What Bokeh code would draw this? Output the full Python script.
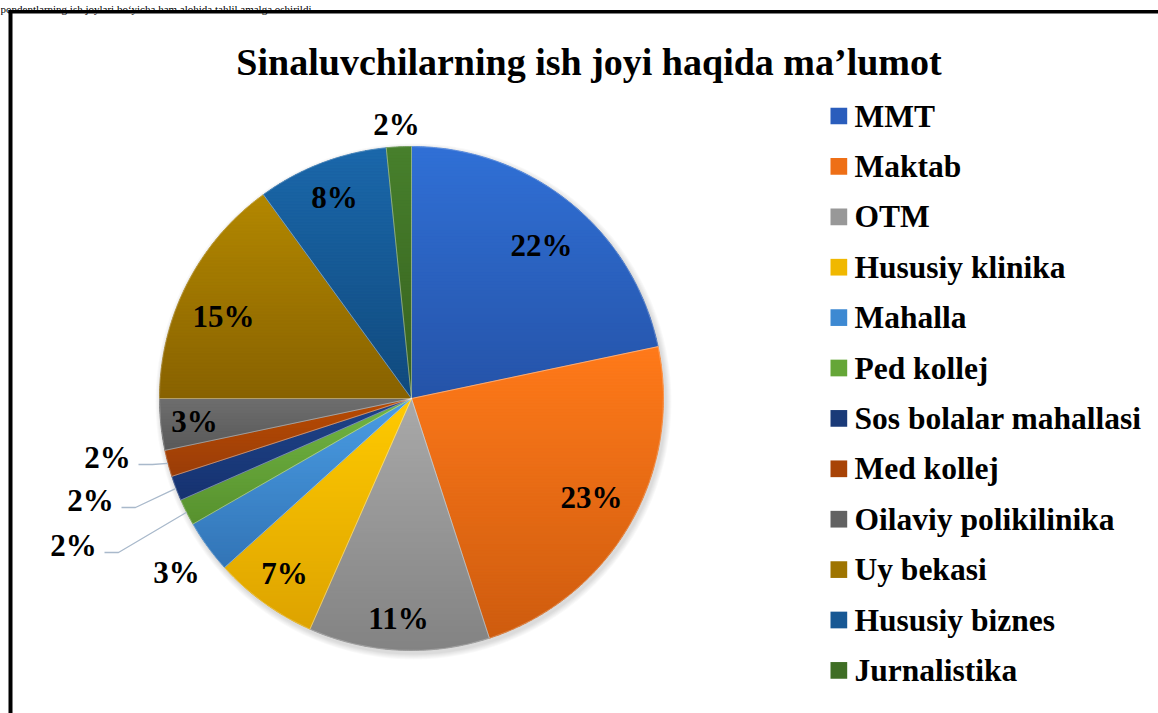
import math
from bokeh.plotting import figure
from bokeh.models import Range1d, ColumnDataSource
from bokeh.embed import file_html
from bokeh.resources import INLINE
from bokeh.core.properties import value

W, H = 1158, 713

# ---------------- data ----------------
categories = ["MMT", "Maktab", "OTM", "Hususiy klinika", "Mahalla", "Ped kollej",
              "Sos bolalar mahallasi", "Med kollej", "Oilaviy polikilinika",
              "Uy bekasi", "Hususiy biznes", "Jurnalistika"]
shares = [21.7, 23.3, 11.6, 6.7, 3.4, 1.7, 1.6, 1.7, 3.3, 15.0, 8.4, 1.6]
pct_labels = ["22%", "23%", "11%", "7%", "3%", "2%", "2%", "2%", "3%", "15%", "8%", "2%"]
colors = ["#2A5DBC", "#EE6F16", "#989898", "#F0B800", "#3D89D2", "#65A637",
          "#1A3A78", "#A84306", "#626262", "#9E7400", "#175894", "#3F6E25"]
colors_top = ["#3070D6", "#FF7A1A", "#A9A9A9", "#FFCA00", "#4A9DE4", "#72B643",
              "#1F4489", "#B94B02", "#6E6E6E", "#B38800", "#1B68AB", "#47802C"]
colors_bottom = ["#2553A8", "#CE5C0F", "#838383", "#DDA300", "#3274B6", "#57912E",
                 "#163270", "#9A3D08", "#595959", "#886200", "#114A7D", "#37611F"]
title_text = "Sinaluvchilarning ish joyi haqida ma\u2019lumot"
caption_text = "pondentlarning ish joylari bo\u2018yicha ham alohida tahlil amalga oshirildi."

# ---------------- layout (screen px) ----------------
CX, CY, R = 411, 398, 252
label_xy = [(541, 245), (591, 497), (398, 618), (284, 573), (176, 572), (73, 545),
            (90, 500), (107, 457), (194, 421), (223, 316), (334, 197), (396, 124)]
leader = [5, 6, 7]
LEG_X, LEG_Y0, LEG_DY, LEG_S = 830, 115.5, 50.4, 16.7


def Y(y):
    return H - y


def hex2rgb(h):
    h = h.lstrip("#")
    return tuple(int(h[i:i + 2], 16) for i in (0, 2, 4))


def mix(c0, c1, t):
    a, b = hex2rgb(c0), hex2rgb(c1)
    return "#%02x%02x%02x" % tuple(int(round(a[k] + (b[k] - a[k]) * t)) for k in range(3))


def clip(poly, yv, keep_above):
    out = []
    n = len(poly)
    for i in range(n):
        x0, y0 = poly[i]
        x1, y1 = poly[(i + 1) % n]
        in0 = (y0 >= yv) if keep_above else (y0 <= yv)
        in1 = (y1 >= yv) if keep_above else (y1 <= yv)
        if in0:
            out.append((x0, y0))
        if in0 != in1:
            t = (yv - y0) / (y1 - y0)
            out.append((x0 + (x1 - x0) * t, yv))
    return out


p = figure(width=W, height=H, x_range=Range1d(0, W), y_range=Range1d(0, H),
           output_backend="svg", toolbar_location=None, min_border=0)
p.axis.visible = False
p.grid.visible = False
p.outline_line_color = None
p.background_fill_color = "white"
p.border_fill_color = "white"

serif = value("Liberation Serif")

# caption line above the frame
p.text(x=[0], y=[Y(8)], text=[caption_text], text_font=serif, text_font_size="11px",
       text_color="black", text_align="left", text_baseline="alphabetic")

# frame
p.quad(left=[8], right=[12], top=[Y(9.5)], bottom=[-5], fill_color="black", line_color=None)
p.quad(left=[8], right=[W + 5], top=[Y(9.5)], bottom=[Y(13)], fill_color="black", line_color=None)

# title
p.text(x=[588.5], y=[Y(61)], text=[title_text], text_font=serif, text_font_size="38px",
       text_font_style="bold", text_color="black", text_align="center", text_baseline="alphabetic")

# shadow
for k in range(1, 7):
    p.circle(x=[CX + 2], y=[Y(CY + 3)], radius=R + k, fill_color="black", fill_alpha=0.025,
             line_color=None)

# slice angles from the shares
cum = 0.0
starts, ends, mids = [], [], []
for s in shares:
    a0 = math.pi / 2 - 2 * math.pi * cum / 100.0
    cum += s
    a1 = math.pi / 2 - 2 * math.pi * cum / 100.0
    starts.append(a0)
    ends.append(a1)
    mids.append((a0 + a1) / 2)

src = ColumnDataSource(dict(start=starts, end=ends, color=colors, cat=categories))
p.wedge(x=CX, y=Y(CY), radius=R, start_angle="start", end_angle="end", direction="clock",
        fill_color="color", line_color=None, source=src)

# vertical gradient shading for each slice
cx, cy = CX, Y(CY)
bxs, bys, bcs = [], [], []
for i in range(len(shares)):
    a0, a1 = starts[i], ends[i]
    n = max(4, int(abs(a0 - a1) / math.radians(0.5)))
    poly = [(cx, cy)] + [(cx + R * math.cos(a0 + (a1 - a0) * j / n),
                          cy + R * math.sin(a0 + (a1 - a0) * j / n)) for j in range(n + 1)]
    ytop = max(q[1] for q in poly)
    ybot = min(q[1] for q in poly)
    step = 3.0
    yb = ytop
    while yb > ybot:
        y_lo = max(ybot, yb - step)
        piece = clip(clip(poly, yb, False), y_lo, True)
        if len(piece) >= 3:
            t = (ytop - (yb + y_lo) / 2) / max(1e-6, ytop - ybot)
            bxs.append([q[0] for q in piece])
            bys.append([q[1] for q in piece])
            bcs.append(mix(colors_top[i], colors_bottom[i], t))
        yb = y_lo
p.patches(xs=bxs, ys=bys, fill_color=bcs, line_color=bcs, line_width=0.8)

# thin separators
p.wedge(x=CX, y=Y(CY), radius=R, start_angle="start", end_angle="end", direction="clock",
        fill_alpha=0, line_color="white", line_width=0.5, line_alpha=0.45, source=src)

# leader lines
for i in leader:
    lx, ly = label_xy[i]
    ex = CX + R * math.cos(mids[i])
    ey = Y(CY) + R * math.sin(mids[i])
    p.line(x=[lx + 31, lx + 45, ex], y=[Y(ly + 7), Y(ly + 7), ey],
           line_color="#A9B9CB", line_width=1.3)

# percent labels
p.text(x=[q[0] for q in label_xy], y=[Y(q[1]) for q in label_xy], text=pct_labels,
       text_font=serif, text_font_size="31px", text_font_style="bold", text_color="black",
       text_align="center", text_baseline="middle")

# legend
lx = [LEG_X + LEG_S / 2] * len(categories)
ly = [Y(LEG_Y0 + i * LEG_DY) for i in range(len(categories))]
p.rect(x=lx, y=ly, width=LEG_S, height=LEG_S, fill_color=colors, line_color=None)
p.text(x=[LEG_X + 24] * len(categories), y=ly, text=categories, text_font=serif,
       text_font_size="31.5px", text_font_style="bold", text_color="black",
       text_align="left", text_baseline="middle")

open("out.html", "w").write(file_html(p, INLINE))
